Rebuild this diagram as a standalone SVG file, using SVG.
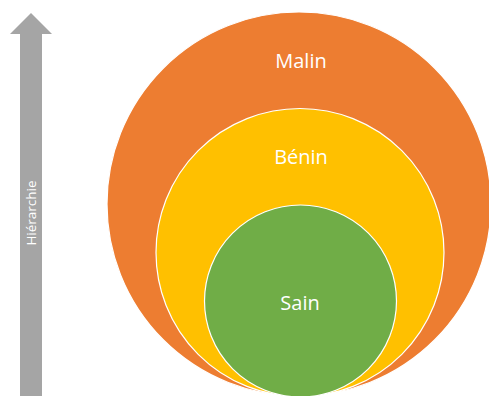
<svg xmlns="http://www.w3.org/2000/svg" width="489" height="396" viewBox="0 0 489 396">
<style>
.c{stroke:#fff;stroke-width:1.2}
.t{font-family:"Open Sans","Noto Sans",sans-serif;fill:#fff;text-anchor:middle}
</style>
<rect width="489" height="396" fill="#fff"/>
<g id="arrow">
<polygon points="31,13 52,34 42,34 42,396 20,396 20,34 10,34" fill="#A5A5A5"/>
<text class="t" x="0" y="0" font-size="13.5" transform="translate(36,213) rotate(-90)">Hiérarchie</text>
</g>
<g id="malin">
<circle class="c" cx="299" cy="204" r="192" fill="#ED7D31"/>
<text class="t" x="301" y="68" font-size="20">Malin</text>
</g>
<g id="benin">
<circle class="c" cx="300" cy="252.5" r="144" fill="#FFC000"/>
<text class="t" x="301" y="164" font-size="20">Bénin</text>
</g>
<g id="sain">
<circle class="c" cx="300.5" cy="301" r="96" fill="#70AD47"/>
<text class="t" x="300" y="310" font-size="20">Sain</text>
</g>
<g id="connectors"/>
</svg>
